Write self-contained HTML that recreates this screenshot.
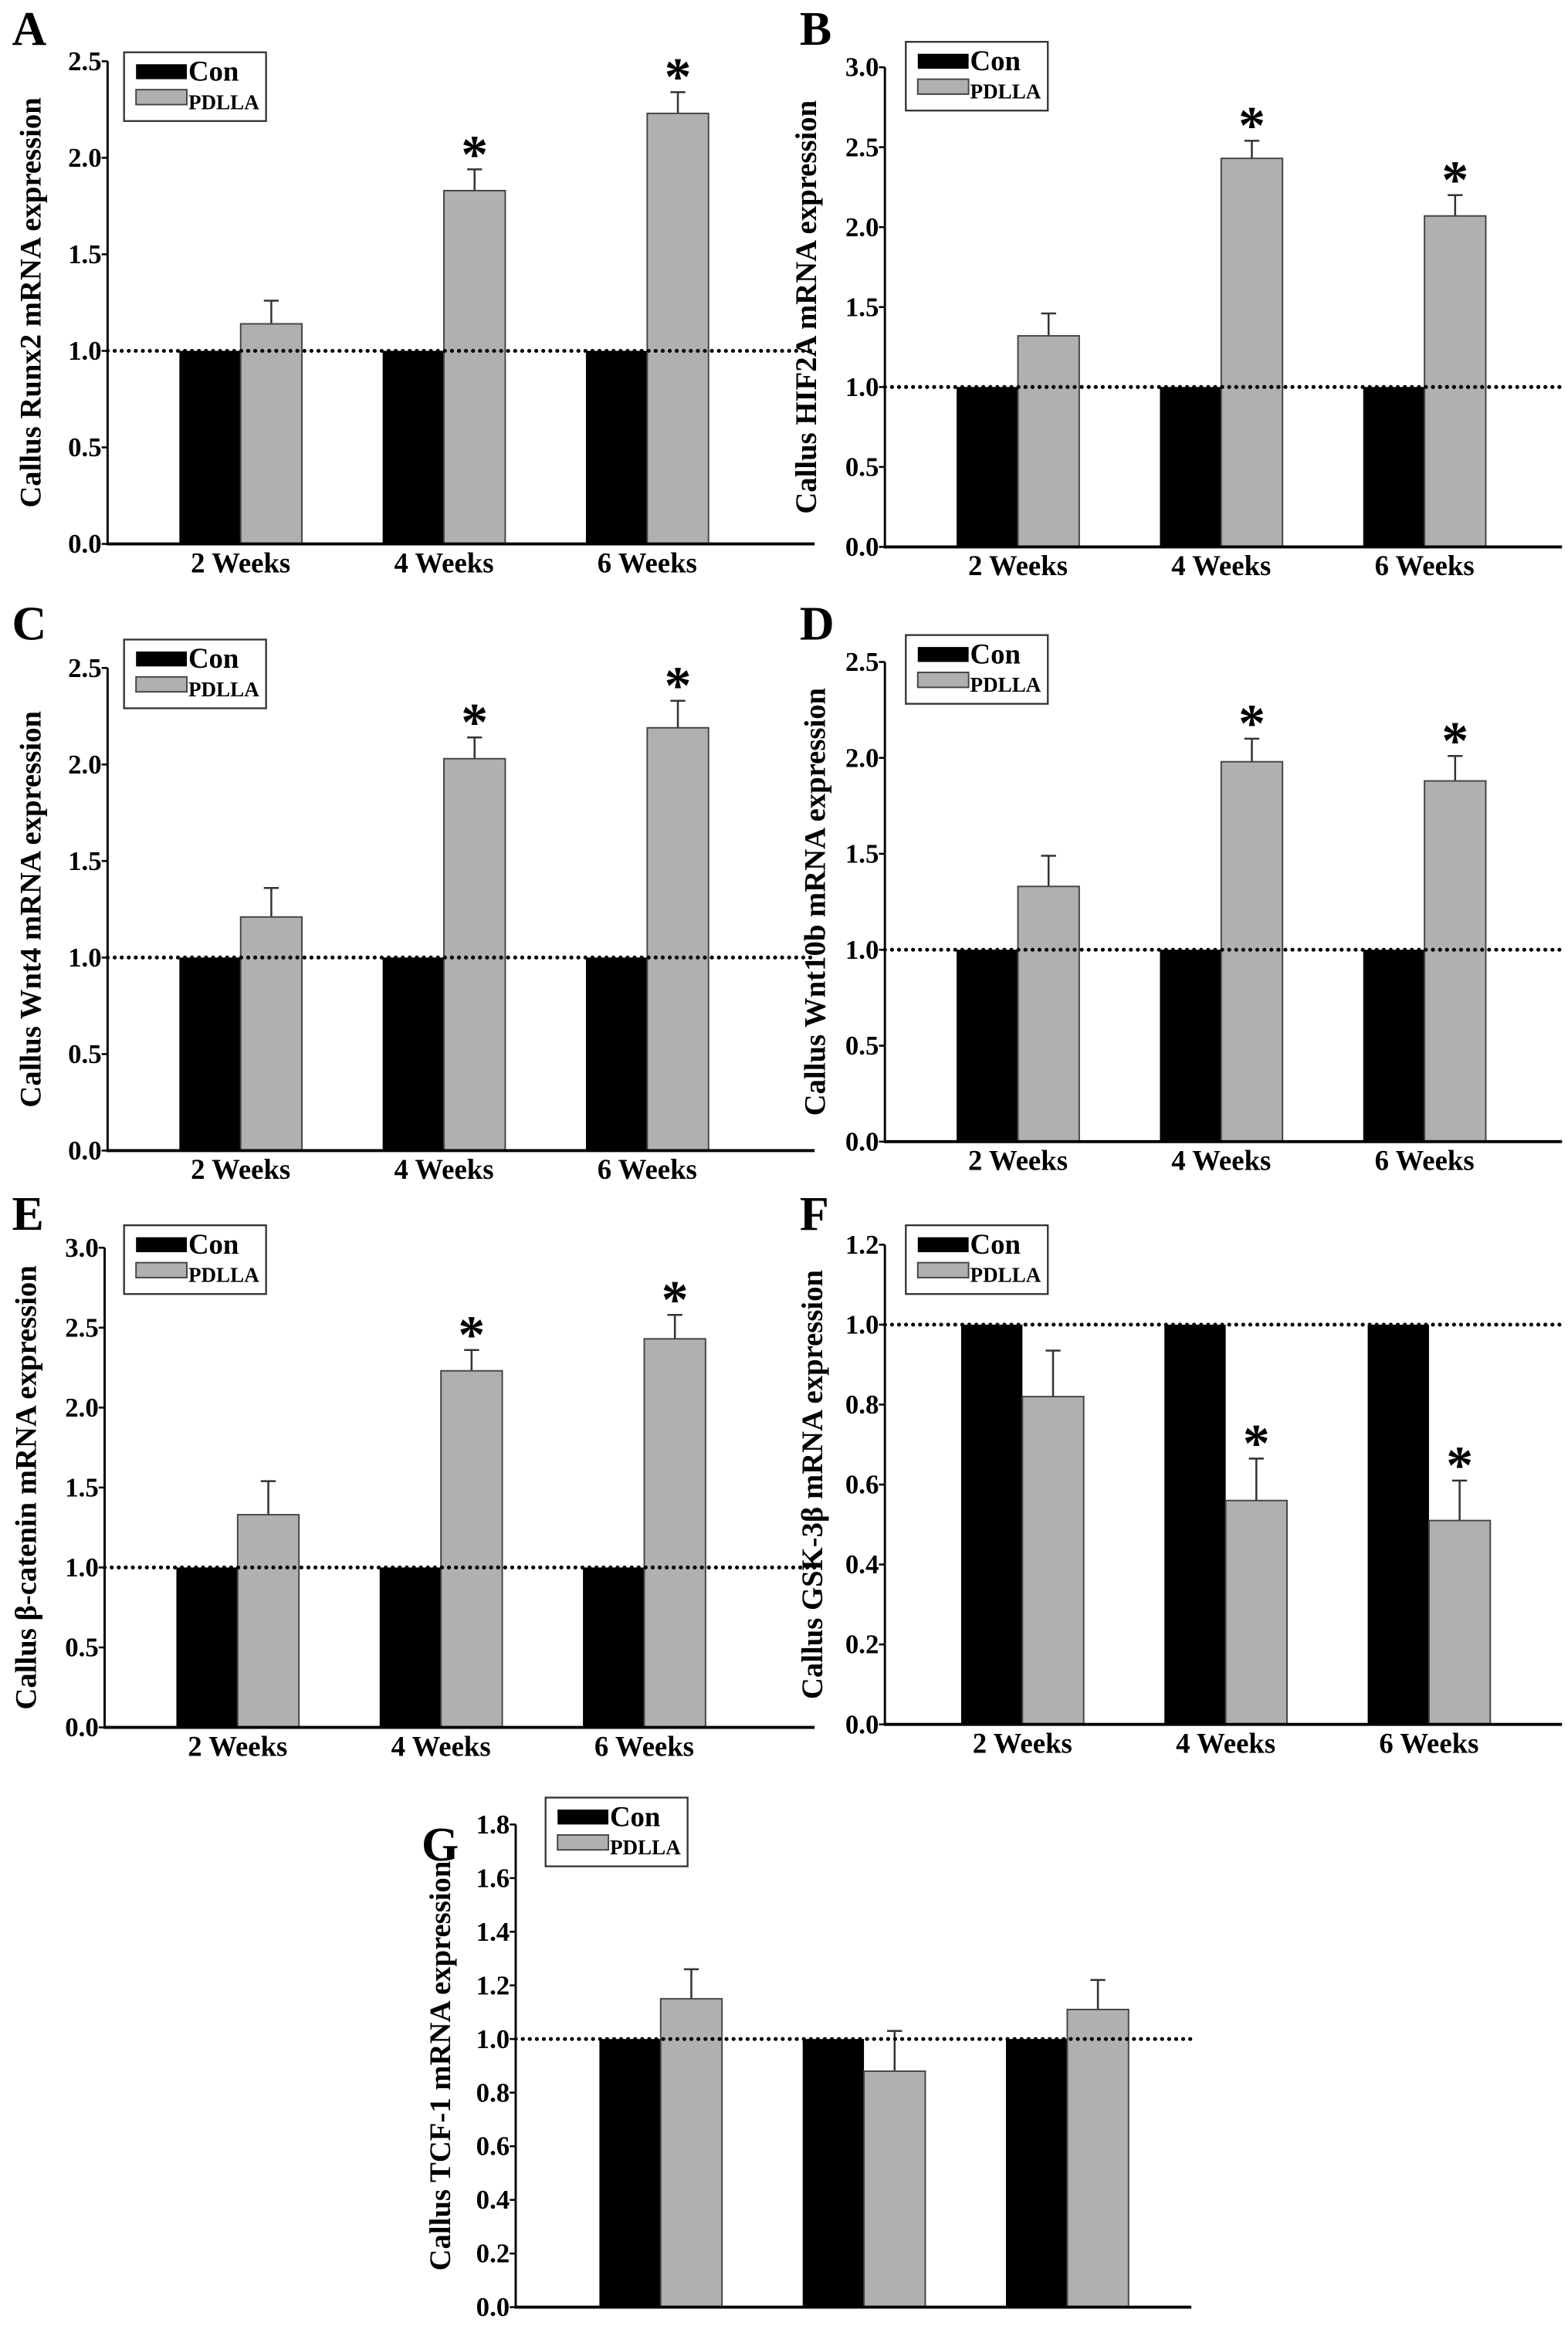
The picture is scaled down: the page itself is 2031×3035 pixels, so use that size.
<!DOCTYPE html>
<html><head><meta charset="utf-8"><style>
html,body{margin:0;padding:0;background:#fff}
svg{display:block}
text{font-family:"Liberation Serif",serif;font-weight:bold;fill:#000}
</style></head><body>
<svg id="fig" width="2031" height="3035" viewBox="0 0 1049 1568" preserveAspectRatio="none" xmlns="http://www.w3.org/2000/svg"></svg>
<script>
const categories = ["2 Weeks","4 Weeks","6 Weeks"];
const conValues = [1,1,1];
const runx2Pdlla = [1.14,1.83,2.23];
const runx2Err = [0.12,0.11,0.11];
const hif2aPdlla = [1.32,2.43,2.07];
const hif2aErr = [0.14,0.11,0.13];
const wnt4Pdlla = [1.21,2.03,2.19];
const wnt4Err = [0.15,0.11,0.14];
const wnt10bPdlla = [1.33,1.98,1.88];
const wnt10bErr = [0.16,0.12,0.13];
const bcatPdlla = [1.33,2.23,2.43];
const bcatErr = [0.21,0.13,0.15];
const gskPdlla = [0.82,0.56,0.51];
const gskErr = [0.115,0.105,0.1];
const tcfPdlla = [1.15,0.88,1.11];
const tcfErr = [0.11,0.15,0.11];
const starsA = [false,true,true];
const starsB = [false,true,true];
const starsC = [false,true,true];
const starsD = [false,true,true];
const starsE = [false,true,true];
const starsF = [false,true,true];
const starsG = [false,false,false];
const ticks25 = [0,0.5,1,1.5,2,2.5];
const ticks30 = [0,0.5,1,1.5,2,2.5,3];
const ticks12 = [0,0.2,0.4,0.6,0.8,1,1.2];
const ticks18 = [0,0.2,0.4,0.6,0.8,1,1.2,1.4,1.6,1.8];

const panels = [
 {id:'a',label:'A',lx:8,ly:30,title:'Callus Runx2 mRNA expression',ax:72,y0:364,yt:41,max:2.5,ticks:ticks25,dec:1,off:48,xend:545,leg:[83,35],pd:runx2Pdlla,er:runx2Err,st:starsA,xl:true,tx:27},
 {id:'b',label:'B',lx:535,ly:30,title:'Callus HIF2A mRNA expression',ax:592,y0:366,yt:45,max:3.0,ticks:ticks30,dec:1,off:48,xend:1045,leg:[606,28],pd:hif2aPdlla,er:hif2aErr,st:starsB,xl:true,tx:546},
 {id:'c',label:'C',lx:8,ly:428,title:'Callus Wnt4 mRNA expression',ax:72,y0:770,yt:447,max:2.5,ticks:ticks25,dec:1,off:48,xend:545,leg:[83,428],pd:wnt4Pdlla,er:wnt4Err,st:starsC,xl:true,tx:27},
 {id:'d',label:'D',lx:535,ly:428,title:'Callus Wnt10b mRNA expression',ax:592,y0:764,yt:443,max:2.5,ticks:ticks25,dec:1,off:48,xend:1045,leg:[606,425],pd:wnt10bPdlla,er:wnt10bErr,st:starsD,xl:true,tx:552},
 {id:'e',label:'E',lx:8,ly:823,title:'Callus \u03b2-catenin mRNA expression',ax:70,y0:1156,yt:835,max:3.0,ticks:ticks30,dec:1,off:48,xend:545,leg:[83,820],pd:bcatPdlla,er:bcatErr,st:starsE,xl:true,tx:24},
 {id:'f',label:'F',lx:535,ly:823,title:'Callus GSK-3\u03b2 mRNA expression',ax:592,y0:1154,yt:833,max:1.2,ticks:ticks12,dec:1,off:51,xend:1045,leg:[606,820],pd:gskPdlla,er:gskErr,st:starsF,xl:true,tx:550},
 {id:'g',label:'G',lx:282,ly:1245,title:'Callus TCF-1 mRNA expression',ax:345,y0:1544,yt:1221,max:1.8,ticks:ticks18,dec:1,off:56,xend:797,leg:[365,1203],pd:tcfPdlla,er:tcfErr,st:starsG,xl:false,tx:301}
];
const NS='http://www.w3.org/2000/svg';
const svg=document.getElementById('fig');
function mk(tag,attrs,parent,txt){const e=document.createElementNS(NS,tag);for(const k in attrs)e.setAttribute(k,attrs[k]);if(txt!==undefined)e.textContent=txt;parent.appendChild(e);return e;}
const BW=41, GAP=136;
panels.forEach(p=>{
  const g=mk('g',{},svg);
  
  
  const y=v=>p.y0-(v/p.max)*(p.y0-p.yt);
  const xg=i=>p.ax+p.off+i*GAP;
  const lab=mk('text',{x:p.lx,y:p.ly,'font-size':32},g,p.label);
  
  
  categories.forEach((c,i)=>{
    const x=xg(i);
    const cb=mk('rect',{x:x,y:y(conValues[i]),width:BW,height:p.y0-y(conValues[i]),fill:'#000'},g);
    
    
    const top=y(p.pd[i]);
    const eb=y(p.pd[i]+p.er[i]);
    const el=mk('line',{x1:x+BW*1.5,x2:x+BW*1.5,y1:top,y2:eb,stroke:'#333','stroke-width':1.3},g);
    
    
    mk('line',{x1:x+BW*1.5-5,x2:x+BW*1.5+5,y1:eb,y2:eb,stroke:'#333','stroke-width':1.3},g);
    const pb=mk('rect',{x:x+BW,y:top,width:BW,height:p.y0-top,fill:'#b0b0b0',stroke:'#444','stroke-width':1},g);
    
    
    if(p.st[i]){const s=mk('text',{x:x+BW*1.5,y:eb+2,'font-size':36,'text-anchor':'middle'},g,'*');
      
      }
    if(p.xl){const t=mk('text',{x:x+BW,y:p.y0+19,'font-size':19,'text-anchor':'middle'},g,c);
      
      }
  });
  const dl=mk('line',{x1:p.ax,x2:p.xend,y1:y(1),y2:y(1),stroke:'#000','stroke-width':2.6,'stroke-dasharray':'0.1 4.6','stroke-linecap':'round'},g);
  
  
  const ya=mk('line',{x1:p.ax,x2:p.ax,y1:p.yt,y2:p.y0+1,stroke:'#000','stroke-width':1.5},g);
  
  
  const xa=mk('line',{x1:p.ax,x2:p.xend,y1:p.y0,y2:p.y0,stroke:'#000','stroke-width':2},g);
  
  
  p.ticks.forEach(t=>{
    mk('line',{x1:p.ax-4,x2:p.ax,y1:y(t),y2:y(t),stroke:'#000','stroke-width':1.3},g);
    const tl=mk('text',{x:p.ax-4,y:y(t)+6,'font-size':18,'text-anchor':'end'},g,t.toFixed(p.dec));
    
    
  });
  const cy=(p.y0+p.yt)/2;
  const tt=mk('text',{x:p.tx,y:cy,'font-size':20,'text-anchor':'middle',transform:'rotate(-90 '+p.tx+' '+cy+')'},g,p.title);
  
  
  const [lx,ly]=p.leg;
  const lg=mk('g',{},g);
  
  
  mk('rect',{x:lx,y:ly,width:95,height:46,fill:'#fff',stroke:'#333','stroke-width':1.2},lg);
  mk('rect',{x:lx+8,y:ly+8,width:34,height:10,fill:'#000'},lg);
  mk('text',{x:lx+43,y:ly+19,'font-size':19},lg,'Con');
  mk('rect',{x:lx+8,y:ly+25,width:34,height:10,fill:'#b0b0b0',stroke:'#444','stroke-width':1},lg);
  mk('text',{x:lx+43,y:ly+38,'font-size':14},lg,'PDLLA');
});
</script>
</body></html>
